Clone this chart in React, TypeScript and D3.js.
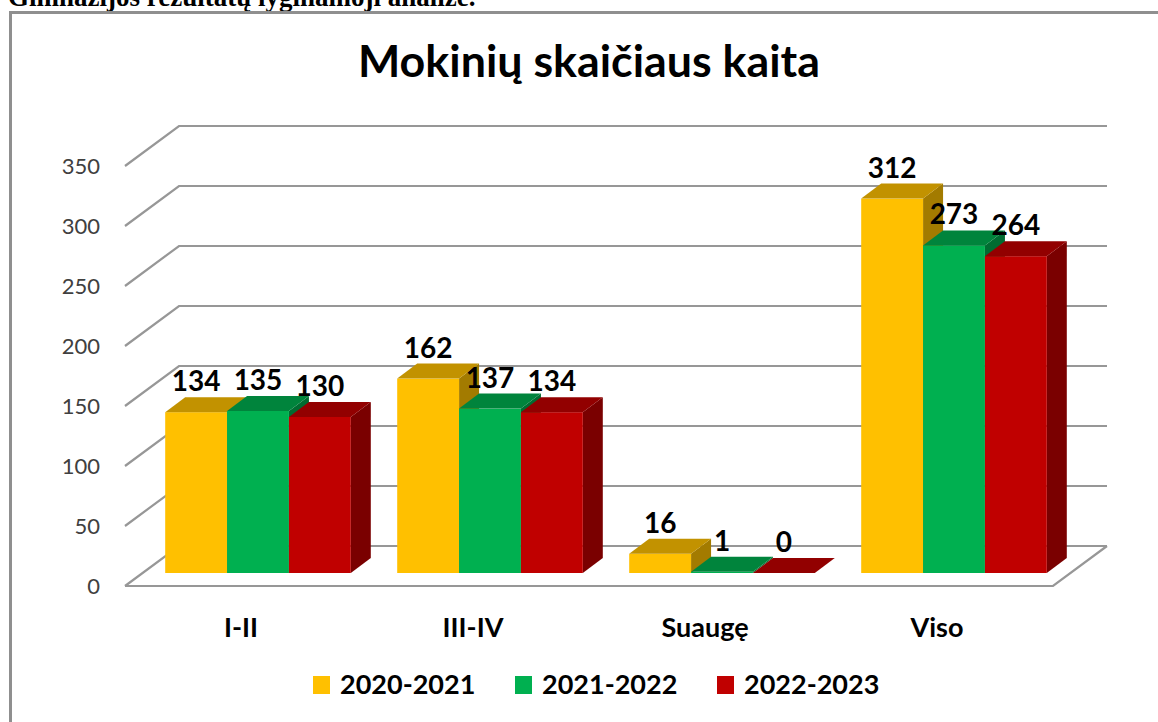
import React from "react";
import * as d3 from "d3";

const categories = ["I-II", "III-IV", "Suaugę", "Viso"];
const seriesNames = ["2020-2021", "2021-2022", "2022-2023"];
const values2020 = [134, 162, 16, 312];
const values2021 = [135, 137, 1, 273];
const values2022 = [130, 134, 0, 264];
const yTickValues = [0, 50, 100, 150, 200, 250, 300, 350];
const chartTitle = "Mokinių skaičiaus kaita";
const pageHeading = "Gimnazijos rezultatų lyginamoji analizė.";

const seriesValues = [values2020, values2021, values2022];
const seriesColors = [
  { front: "#FFC000", top: "#C29200", side: "#A37B00" },
  { front: "#00B050", top: "#00843C", side: "#006C31" },
  { front: "#C00000", top: "#920000", side: "#7A0000" },
];

const W = 1158;
const H = 722;
const FONT = "Lato, 'Open Sans', 'Liberation Sans', sans-serif";

// projection geometry
const FRONT_X0 = 125;
const FRONT_X1 = 1053;
const FRONT_Y0 = 586;
const DEPTH_DX = 54;
const DEPTH_DY = -40;
const BAR_OFF_DX = 17;
const BAR_OFF_DY = -13;
const BAR_DEPTH_DX = 20;
const BAR_DEPTH_DY = -15;

export default function App() {
  const x = d3
    .scaleBand<string>()
    .domain(categories)
    .range([FRONT_X0, FRONT_X1])
    .paddingInner(0.2)
    .paddingOuter(0.1);
  const xSub = d3
    .scaleBand<string>()
    .domain(seriesNames)
    .range([0, x.bandwidth()])
    .padding(0);
  const h = d3.scaleLinear().domain([0, 350]).range([0, 420]);

  const backX0 = FRONT_X0 + DEPTH_DX;
  const backY0 = FRONT_Y0 + DEPTH_DY;
  const backX1 = FRONT_X1 + DEPTH_DX;
  const baseY = FRONT_Y0 + BAR_OFF_DY;

  const bars: React.ReactNode[] = [];
  const labels: React.ReactNode[] = [];
  categories.forEach((cat, ci) => {
    seriesNames.forEach((s, si) => {
      const v = seriesValues[si][ci];
      const x0 = (x(cat) as number) + (xSub(s) as number) + BAR_OFF_DX;
      const x1 = x0 + xSub.bandwidth();
      const yt = baseY - h(v);
      const c = seriesColors[si];
      const side = `M${x1},${yt} L${x1 + BAR_DEPTH_DX},${yt + BAR_DEPTH_DY} L${x1 + BAR_DEPTH_DX},${baseY + BAR_DEPTH_DY} L${x1},${baseY} Z`;
      const top = `M${x0},${yt} L${x1},${yt} L${x1 + BAR_DEPTH_DX},${yt + BAR_DEPTH_DY} L${x0 + BAR_DEPTH_DX},${yt + BAR_DEPTH_DY} Z`;
      bars.push(
        <g key={`b-${ci}-${si}`}>
          <path d={side} fill={c.side} />
          <rect x={x0} y={yt} width={x1 - x0} height={baseY - yt} fill={c.front} />
          <path d={top} fill={c.top} />
        </g>
      );
      labels.push(
        <text
          key={`l-${ci}-${si}`}
          x={(x0 + x1) / 2}
          y={yt + BAR_DEPTH_DY - 6}
          textAnchor="middle"
          fontFamily={FONT}
          fontWeight="bold"
          fontSize={28}
          fill="#000"
        >
          {v}
        </text>
      );
    });
  });

  return (
    <svg
      width={W}
      height={H}
      style={{ position: "absolute", left: 0, top: 0, background: "#fff" }}
    >
      <rect x={0} y={0} width={W} height={H} fill="#fff" />
      <text
        x={8}
        y={6}
        fontFamily="'Liberation Serif', 'Times New Roman', serif"
        fontWeight="bold"
        fontSize={27}
        fill="#000"
      >
        {pageHeading}
      </text>
      <path d={`M10.5,${H} V12.5 H${W}`} fill="none" stroke="#8f8f8f" strokeWidth={3} />

      <text
        x={589}
        y={77}
        textAnchor="middle"
        fontFamily={FONT}
        fontWeight="bold"
        fontSize={43}
        textLength={462}
        lengthAdjust="spacingAndGlyphs"
        fill="#000"
      >
        {chartTitle}
      </text>

      {/* grid: left wall diagonals + back wall horizontals */}
      {yTickValues.map((t) => (
        <path
          key={`g-${t}`}
          d={`M${FRONT_X0},${FRONT_Y0 - h(t)} L${backX0},${backY0 - h(t)} L${backX1},${backY0 - h(t)}`}
          fill="none"
          stroke="#979797"
          strokeWidth={2.2}
        />
      ))}
      {/* floor */}
      <path
        d={`M${FRONT_X0},${FRONT_Y0} L${FRONT_X1},${FRONT_Y0} L${backX1},${backY0}`}
        fill="none"
        stroke="#979797"
        strokeWidth={2.2}
      />

      {yTickValues.map((t) => (
        <text
          key={`t-${t}`}
          x={100}
          y={FRONT_Y0 - h(t)}
          dy="0.35em"
          textAnchor="end"
          fontFamily={FONT}
          fontSize={22}
          fill="#404040"
        >
          {t}
        </text>
      ))}

      {bars}
      {labels}

      {categories.map((c) => (
        <text
          key={`c-${c}`}
          x={(x(c) as number) + x.bandwidth() / 2}
          y={637}
          textAnchor="middle"
          fontFamily={FONT}
          fontWeight="bold"
          fontSize={27}
          fill="#000"
        >
          {c}
        </text>
      ))}

      {seriesNames.map((s, i) => (
        <g key={`lg-${s}`} transform={`translate(${313 + i * 202},0)`}>
          <rect x={0} y={676} width={17} height={18} fill={seriesColors[i].front} />
          <text
            x={27}
            y={694}
            fontFamily={FONT}
            fontWeight="bold"
            fontSize={27}
            fill="#000"
          >
            {s}
          </text>
        </g>
      ))}
    </svg>
  );
}
